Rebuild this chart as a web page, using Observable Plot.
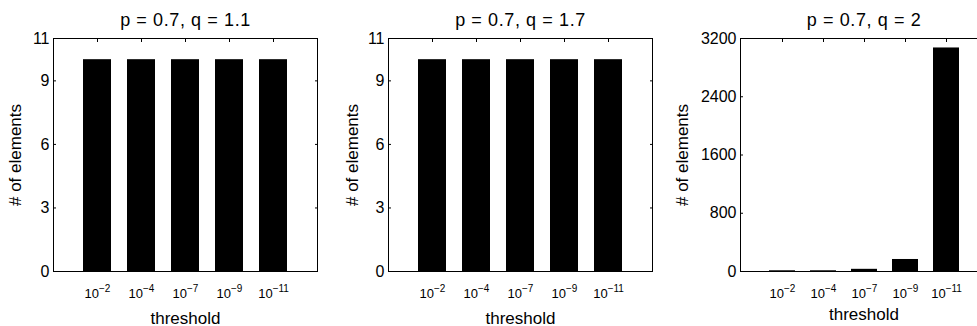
<!DOCTYPE html>
<html><head><meta charset="utf-8">
<script src="https://cdn.jsdelivr.net/npm/d3@7"></script>
<script src="https://cdn.jsdelivr.net/npm/@observablehq/plot@0.6"></script>
<style>
body{margin:0;background:#fff;}
#wrap{position:relative;width:977px;height:326px;overflow:hidden;background:#fff;}
#wrap svg{position:absolute;top:0;}
</style></head><body><div id="wrap"></div>
<script>
const thresholdExponents = [-2, -4, -7, -9, -11];
const titles = ["p = 0.7, q = 1.1", "p = 0.7, q = 1.7", "p = 0.7, q = 2"];
const countsQ11 = [10, 10, 10, 10, 10];
const countsQ17 = [10, 10, 10, 10, 10];
const countsQ2 = [10, 10, 30, 165, 3070];
const yTicksSmall = [0, 3, 6, 9, 11];
const yTicksLarge = [0, 800, 1600, 2400, 3200];
const yLabel = "# of elements";
const xLabel = "threshold";

const panels = [
  {title: titles[0], counts: countsQ11, ticks: yTicksSmall, ymax: 11, left: 0, width: 330, ml: 53, yOff: 45, xOff: 52},
  {title: titles[1], counts: countsQ17, ticks: yTicksSmall, ymax: 11, left: 330, width: 335, ml: 58, yOff: 43, xOff: 52},
  {title: titles[2], counts: countsQ2, ticks: yTicksLarge, ymax: 3200, left: 660, width: 340, ml: 80, yOff: 65, xOff: 48}
];

const wrap = document.getElementById("wrap");
const font = "'Liberation Sans', Arial, Helvetica, sans-serif";

for (const p of panels) {
  const data = thresholdExponents.map((t, i) => ({t, n: p.counts[i]}));
  const svg = Plot.plot({
    width: p.width,
    height: 326,
    marginLeft: p.ml,
    marginRight: 13,
    marginTop: 38,
    marginBottom: 55,
    style: {fontFamily: font, fontSize: "15px", color: "black", background: "white", overflow: "visible"},
    x: {type: "band", domain: thresholdExponents, paddingInner: 0.37, paddingOuter: 0.685},
    y: {domain: [0, p.ymax]},
    marks: [
      Plot.barY(data, {x: "t", y: "n", fill: "black"}),
      Plot.frame({stroke: "black"}),
      Plot.axisY({ticks: p.ticks, tickSize: -3, tickPadding: 7, tickFormat: d3.format("d"),
        label: yLabel, labelAnchor: "center", labelOffset: p.yOff, labelArrow: "none"}),
      Plot.axisY({anchor: "right", ticks: p.ticks, tickSize: -3, tickFormat: () => "", label: null}),
      Plot.axisX({anchor: "bottom", tickSize: 0, tickPadding: 17,
        tickFormat: d => "10^" + d, label: xLabel, labelAnchor: "center", labelOffset: p.xOff, labelArrow: "none"}),
      Plot.axisX({anchor: "top", tickSize: -3, tickFormat: () => "", label: null}),
      Plot.text([p.title], {text: d => d, frameAnchor: "top", lineAnchor: "bottom", dy: -13, fontSize: 18, fill: "black"})
    ]
  });
  svg.style.left = p.left + "px";
  const ns = "http://www.w3.org/2000/svg";
  svg.querySelectorAll('g[aria-label="y-axis tick label"]').forEach(g => {
    g.style.fontSize = "16px";
  });
  svg.querySelectorAll('g[aria-label="x-axis tick label"]').forEach(g => {
    g.style.fontSize = "13px";
  });
  svg.querySelectorAll('g[aria-label="text"]').forEach(g => {
    g.style.letterSpacing = "0.6px";
  });
  svg.querySelectorAll('g[aria-label="x-axis tick label"] text').forEach(el => {
    const s = el.textContent;
    if (!s.includes("^")) return;
    const [base, exp] = s.split("^");
    el.textContent = "";
    const t1 = document.createElementNS(ns, "tspan");
    t1.textContent = base;
    const t2 = document.createElementNS(ns, "tspan");
    t2.textContent = exp.replace("-", "\u2212");
    t2.setAttribute("dy", "-6");
    t2.style.fontSize = "10px";
    el.appendChild(t1);
    el.appendChild(t2);
  });
  svg.querySelectorAll('g[aria-label="y-axis label"], g[aria-label="x-axis label"]').forEach(g => {
    g.style.fontSize = "17px";
  });
  wrap.appendChild(svg);
}
</script>
</body></html>
